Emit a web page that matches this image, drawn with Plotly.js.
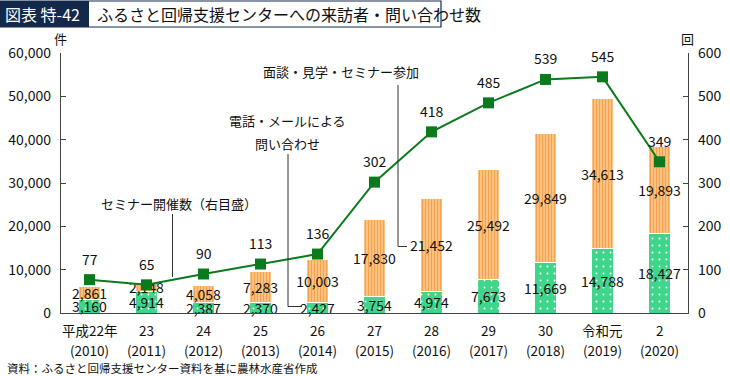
<!DOCTYPE html>
<html>
<head>
<meta charset="utf-8">
<script src="https://cdn.plot.ly/plotly-3.0.1.min.js"></script>
<style>html,body{margin:0;padding:0;background:#fff;}#chart{width:730px;height:376px;}</style>
</head>
<body>
<div id="chart"></div>
<script>
// ---- data ----
const categories = ['平成22年 (2010)', '23 (2011)', '24 (2012)', '25 (2013)', '26 (2014)', '27 (2015)', '28 (2016)', '29 (2017)', '30 (2018)', '令和元 (2019)', '2 (2020)'];
const tickTop = ['平成22年', '23', '24', '25', '26', '27', '28', '29', '30', '令和元', '2'];
const tickBottom = ['(2010)', '(2011)', '(2012)', '(2013)', '(2014)', '(2015)', '(2016)', '(2017)', '(2018)', '(2019)', '(2020)'];
const phoneMail = [3160, 4914, 2387, 2370, 2427, 3754, 4974, 7673, 11669, 14788, 18427];
const visits = [2861, 2148, 4058, 7283, 10003, 17830, 21452, 25492, 29849, 34613, 19893];
const seminars = [77, 65, 90, 113, 136, 302, 418, 485, 539, 545, 349];
const leftTicks = [0, 10000, 20000, 30000, 40000, 50000, 60000];
const rightTicks = [0, 100, 200, 300, 400, 500, 600];

// ---- layout helpers (pixel -> paper) ----
const W = 730, H = 376, L = 61, R = 42, T = 53, B = 63;
const pw = W - L - R, ph = H - T - B;
const px = x => (x - L) / pw;
const py = y => (H - B - y) / ph;
const FONT = '"Noto Sans CJK JP", "Noto Sans", sans-serif';
const fmt = v => v.toLocaleString('en-US');
const navy = '#13294b';
const lineGreen = '#0b7a1c';

const traces = [
  {
    type: 'bar', x: categories, y: phoneMail, yaxis: 'y',
    text: phoneMail.map(fmt), textposition: 'inside', insidetextanchor: 'middle',
    textangle: 0, constraintext: 'none',
    textfont: {family: FONT, size: 14, color: '#111'},
    marker: {color: '#3fd58a', line: {color: '#ffffff', width: 1},
      pattern: {shape: '.', fgcolor: '#ffffff', bgcolor: '#3fd58a', size: 7, solidity: 0.06}},
    hoverinfo: 'skip', cliponaxis: false
  },
  {
    type: 'bar', x: categories, y: visits, yaxis: 'y',
    text: visits.map(fmt), textposition: 'inside', insidetextanchor: 'middle',
    textangle: 0, constraintext: 'none',
    textfont: {family: FONT, size: 14, color: '#111'},
    marker: {color: '#ffc584', line: {color: '#ffffff', width: 1},
      pattern: {shape: '|', fgcolor: '#f6a24c', bgcolor: '#ffc98c', size: 3, solidity: 0.45}},
    hoverinfo: 'skip', cliponaxis: false
  },
  {
    type: 'scatter', mode: 'lines+markers', x: categories, y: seminars, yaxis: 'y2',
    line: {color: lineGreen, width: 2},
    marker: {symbol: 'square', size: 11, color: lineGreen},
    hoverinfo: 'skip', cliponaxis: false
  }
];

const annotations = [];
// line value labels
seminars.forEach((v, i) => annotations.push({
  x: i, y: v, xref: 'x', yref: 'y2', yshift: 21, text: String(v),
  showarrow: false, font: {family: FONT, size: 14, color: '#111'}
}));
// category labels (two rows)
categories.forEach((c, i) => {
  annotations.push({x: i, xref: 'x', y: py(330), yref: 'paper', yanchor: 'middle', text: tickTop[i],
    showarrow: false, font: {family: FONT, size: 13.5, color: '#111'}});
  annotations.push({x: i, xref: 'x', y: py(349.5), yref: 'paper', yanchor: 'middle', text: tickBottom[i],
    showarrow: false, font: {family: FONT, size: 13.5, color: '#111'}});
});
const txt = (x, y, text, size, anchor, color) => ({
  x: px(x), y: py(y), xref: 'paper', yref: 'paper', text: text, showarrow: false,
  xanchor: anchor || 'center', yanchor: 'middle',
  font: {family: FONT, size: size, color: color || '#111'}
});
annotations.push(txt(3, 14, '図表 特-42', 16, 'left', '#ffffff'));
annotations.push(txt(95, 14, 'ふるさと回帰支援センターへの来訪者・問い合わせ数', 16, 'left'));
annotations.push(txt(60, 38, '件', 13));
annotations.push(txt(687, 38, '回', 13));
annotations.push(txt(179, 203, 'セミナー開催数（右目盛）', 13));
annotations.push(txt(287, 121, '電話・メールによる', 13));
annotations.push(txt(287, 143, '問い合わせ', 13));
annotations.push(txt(341, 72, '面談・見学・セミナー参加', 13));
annotations.push(txt(5, 368, '資料：ふるさと回帰支援センター資料を基に農林水産省作成', 11.5, 'left'));

const seg = (x0, y0, x1, y1) => ({
  type: 'line', xref: 'paper', yref: 'paper', x0: px(x0), y0: py(y0), x1: px(x1), y1: py(y1),
  line: {color: '#333', width: 1}
});
const shapes = [
  {type: 'rect', xref: 'paper', yref: 'paper', x0: px(0.5), x1: px(441), y0: py(1), y1: py(27),
    line: {color: navy, width: 1.2}, fillcolor: 'rgba(0,0,0,0)'},
  {type: 'rect', xref: 'paper', yref: 'paper', x0: px(0.5), x1: px(89), y0: py(1), y1: py(27),
    line: {width: 0}, fillcolor: navy},
  seg(172.5, 214, 172.5, 277),
  seg(288, 154, 288, 306.5), seg(288, 306.5, 302, 306.5),
  seg(398, 85, 398, 246.5), seg(398, 246.5, 407, 246.5)
];

const layout = {
  width: W, height: H,
  margin: {l: L, r: R, t: T, b: B, pad: 0},
  paper_bgcolor: '#fff', plot_bgcolor: '#fff',
  barmode: 'stack', bargap: 0.62,
  showlegend: false,
  font: {family: FONT, size: 14, color: '#111'},
  xaxis: {
    type: 'category', range: [-0.5, 10.5], showline: true, linecolor: '#444', linewidth: 1.2,
    ticks: '', showgrid: false, zeroline: false, showticklabels: false, fixedrange: true
  },
  yaxis: {
    range: [0, 60000], tickvals: leftTicks, ticktext: leftTicks.map(fmt),
    showline: true, linecolor: '#444', linewidth: 1.2, ticks: 'inside', ticklen: 5, tickcolor: '#444',
    showgrid: false, zeroline: false, tickfont: {family: FONT, size: 14, color: '#111'},
    ticklabelstandoff: 6
  },
  yaxis2: {
    range: [0, 600], tickvals: rightTicks, overlaying: 'y', side: 'right',
    showline: true, linecolor: '#444', linewidth: 1.2, ticks: 'inside', ticklen: 5, tickcolor: '#444',
    showgrid: false, zeroline: false, tickfont: {family: FONT, size: 14, color: '#111'},
    ticklabelstandoff: 6
  },
  annotations: annotations,
  shapes: shapes
};

Plotly.newPlot('chart', traces, layout, {staticPlot: true, displayModeBar: false});
</script>
</body>
</html>
